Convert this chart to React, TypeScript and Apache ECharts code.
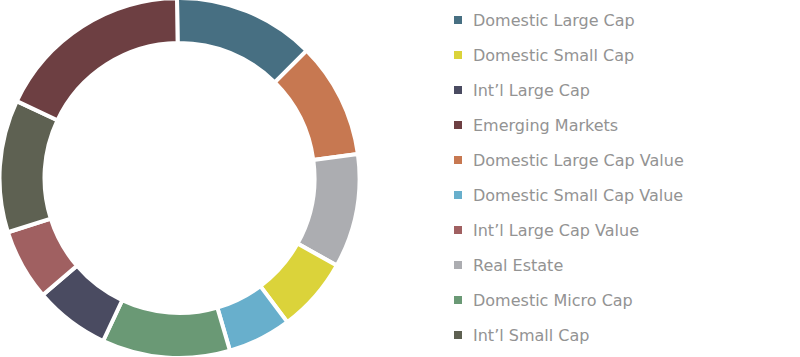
import React, { useEffect, useRef } from "react";
import * as echarts from "echarts";

const sliceNames = [
  "Domestic Large Cap",
  "Domestic Large Cap Value",
  "Real Estate",
  "Domestic Small Cap",
  "Domestic Small Cap Value",
  "Domestic Micro Cap",
  "Int’l Large Cap",
  "Int’l Large Cap Value",
  "Int’l Small Cap",
  "Emerging Markets",
];
const sliceValues = [12.7, 10.4, 10.2, 6.7, 5.7, 11.5, 6.75, 6.4, 11.9, 17.75];
const sliceColors = [
  "#476f82",
  "#c77851",
  "#acadb1",
  "#dbd33a",
  "#68afcc",
  "#6a9975",
  "#4a4b61",
  "#a06061",
  "#5e6152",
  "#6d3f42",
];
const legendOrder = [
  "Domestic Large Cap",
  "Domestic Small Cap",
  "Int’l Large Cap",
  "Emerging Markets",
  "Domestic Large Cap Value",
  "Domestic Small Cap Value",
  "Int’l Large Cap Value",
  "Real Estate",
  "Domestic Micro Cap",
  "Int’l Small Cap",
];

export default function App() {
  const ref = useRef<HTMLDivElement>(null);
  useEffect(() => {
    if (!ref.current) return;
    const chart = echarts.init(ref.current, undefined, { renderer: "svg" });
    chart.setOption({
      animation: false,
      backgroundColor: "#ffffff",
      legend: {
        orient: "vertical",
        left: 447,
        top: 7,
        itemWidth: 10,
        itemHeight: 10,
        itemGap: 19,
        icon: "rect",
        data: legendOrder,
        textStyle: {
          fontFamily: "DejaVu Sans",
          fontSize: 16,
          lineHeight: 16,
          color: "#939393",
          padding: [0, 0, 0, 5],
        },
      },
      series: [
        {
          type: "pie",
          center: [179.5, 178],
          radius: [135, 180],
          startAngle: 90.8,
          clockwise: true,
          label: { show: false },
          labelLine: { show: false },
          emphasis: { disabled: true },
          itemStyle: { borderColor: "#ffffff", borderWidth: 4 },
          data: sliceNames.map((n, i) => ({
            name: n,
            value: sliceValues[i],
            itemStyle: { color: sliceColors[i] },
          })),
        },
      ],
    });
    return () => chart.dispose();
  }, []);
  return (
    <div
      ref={ref}
      style={{ position: "fixed", left: 0, top: 0, width: 800, height: 357 }}
    />
  );
}
